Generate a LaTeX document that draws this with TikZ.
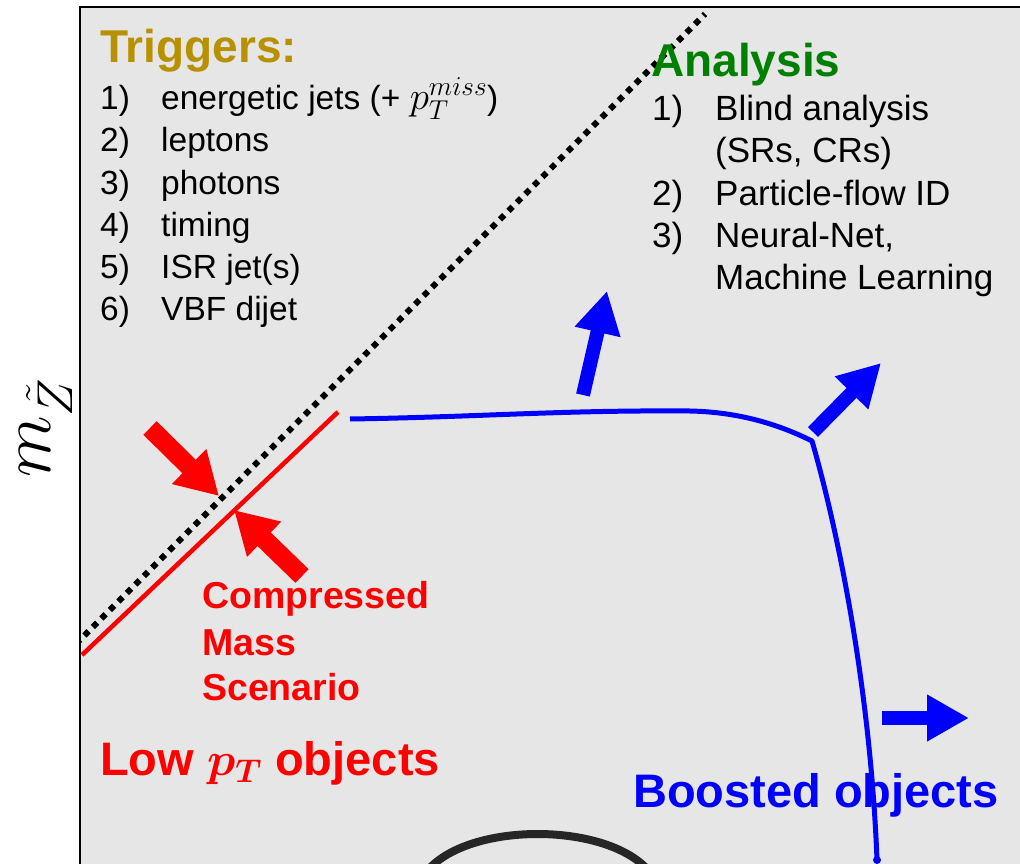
\RequirePackage{fix-cm}
\documentclass[tikz,border=0pt]{standalone}
\usepackage{fontspec}
\setmainfont{Liberation Sans}
\usetikzlibrary{arrows.meta}

\definecolor{panelgray}{RGB}{230,230,230}
\definecolor{trigold}{RGB}{184,145,0}
\definecolor{anagreen}{RGB}{0,128,0}
\definecolor{hotred}{RGB}{255,0,0}
\definecolor{deepblue}{RGB}{0,0,255}
\definecolor{ringgray}{RGB}{38,38,38}

\begin{document}
\begin{tikzpicture}[x=1pt,y=-1pt,
  heading/.style={anchor=base west, inner sep=0pt, font=\fontsize{46}{50}\selectfont\bfseries},
  item/.style={anchor=base west, inner sep=0pt, font=\fontsize{33.5}{36}\selectfont},
  anaitem/.style={anchor=base west, inner sep=0pt, font=\fontsize{35}{38}\selectfont},
  redlabel/.style={anchor=base west, inner sep=0pt, text=hotred, font=\fontsize{37.5}{40}\selectfont\bfseries},
  biglabel/.style={anchor=base west, inner sep=0pt, font=\fontsize{47}{50}\selectfont\bfseries},
  fatred/.style={draw=hotred, line width=19pt, -{Triangle[length=42pt,width=46pt]}},
  fatblue/.style={draw=deepblue, line width=14pt, -{Triangle[length=42pt,width=44pt]}},
]
\useasboundingbox (0,0) rectangle (1020,864);
\fill[white] (0,0) rectangle (1020,864);

% plot area
\fill[panelgray] (80,7) rectangle (1020,864);
\draw[line width=2pt, line join=miter] (80,864) -- (80,7) -- (1020,7);

% axis label
\node[rotate=90, inner sep=0pt, font=\fontsize{72}{72}\selectfont] (ylabel) at (46,428) {$m_{\tilde{Z}}$};

% mass-degenerate diagonal
\begin{scope}
  \clip (81,8) rectangle (1020,864);
  \coordinate (diagLo) at (76,644);
  \coordinate (diagHi) at (705,14);
  \draw[black, line width=6pt, dash pattern=on 6pt off 6pt] (diagLo) -- (diagHi);
\end{scope}

% compressed region boundary
\coordinate (redLo) at (82,655);
\coordinate (redHi) at (338,412);
\draw[hotred, line width=4.5pt] (redLo) -- (redHi);

% boosted region boundary
\coordinate (blueStart) at (350,419);
\coordinate (blueMid) at (690,411);
\coordinate (blueCorner) at (812,441);
\coordinate (blueEnd) at (877,860);
\draw[deepblue, line width=5pt, line join=round]
  (blueStart) .. controls (480,417) and (560,410) .. (blueMid)
  .. controls (740,412) and (780,425) .. (blueCorner)
  .. controls (835,520) and (870,680) .. (blueEnd);
\fill[deepblue] (blueEnd) circle (4);

% squeeze arrows
\coordinate (sqAtail) at (150,428);
\coordinate (sqAtip) at (219,496);
\coordinate (sqBtail) at (302,576);
\coordinate (sqBtip) at (234,510);
\draw[fatred] (sqAtail) -- (sqAtip);
\draw[fatred] (sqBtail) -- (sqBtip);

% outward arrows
\coordinate (upTail) at (583,395);
\coordinate (upTip) at (607,291);
\coordinate (diTail) at (813,432);
\coordinate (diTip) at (881,363);
\coordinate (rtTail) at (882,718);
\coordinate (rtTip) at (969,718);
\draw[fatblue] (upTail) -- (upTip);
\draw[fatblue] (diTail) -- (diTip);
\draw[fatblue] (rtTail) -- (rtTip);

% bottom ring
\coordinate (ringL) at (428,870);
\coordinate (ringR) at (648,870);
\draw[ringgray, line width=8pt] (ringL) .. controls (470,822) and (605,822) .. (ringR);

% triggers
\node[heading, text=trigold] (trigTitle) at (100,63) {Triggers:};
\node[item] (tn1) at (100,110) {1)};
\node[item] (tt1) at (161,110) {energetic jets (+ {\fontsize{39}{40}\selectfont$p_T^{miss}$})};
\node[item] (tn2) at (100,152) {2)};
\node[item] (tt2) at (161,152) {leptons};
\node[item] (tn3) at (100,194) {3)};
\node[item] (tt3) at (161,194) {photons};
\node[item] (tn4) at (100,236) {4)};
\node[item] (tt4) at (161,236) {timing};
\node[item] (tn5) at (100,278) {5)};
\node[item] (tt5) at (161,278) {ISR jet(s)};
\node[item] (tn6) at (100,320) {6)};
\node[item] (tt6) at (161,320) {VBF dijet};

% analysis
\node[heading, text=anagreen] (anaTitle) at (651,77) {Analysis};
\node[anaitem] (an1) at (652,121) {1)};
\node[anaitem] (at1) at (715,121) {Blind analysis};
\node[anaitem] (at1b) at (715,163) {(SRs, CRs)};
\node[anaitem] (an2) at (652,205) {2)};
\node[anaitem] (at2) at (715,205) {Particle-flow ID};
\node[anaitem] (an3) at (652,247) {3)};
\node[anaitem] (at3) at (715,247) {Neural-Net,};
\node[anaitem] (at3b) at (715,289) {Machine Learning};

% region labels
\node[redlabel] (comp1) at (202,608) {Compressed};
\node[redlabel] (comp2) at (202,655) {Mass};
\node[redlabel] (comp3) at (202,700) {Scenario};
\node[biglabel, text=hotred] (lowpt) at (100,775) {Low {\boldmath$p_T$} objects};
\node[biglabel, text=deepblue] (boosted) at (633,807) {Boosted objects};
\end{tikzpicture}
\end{document}
